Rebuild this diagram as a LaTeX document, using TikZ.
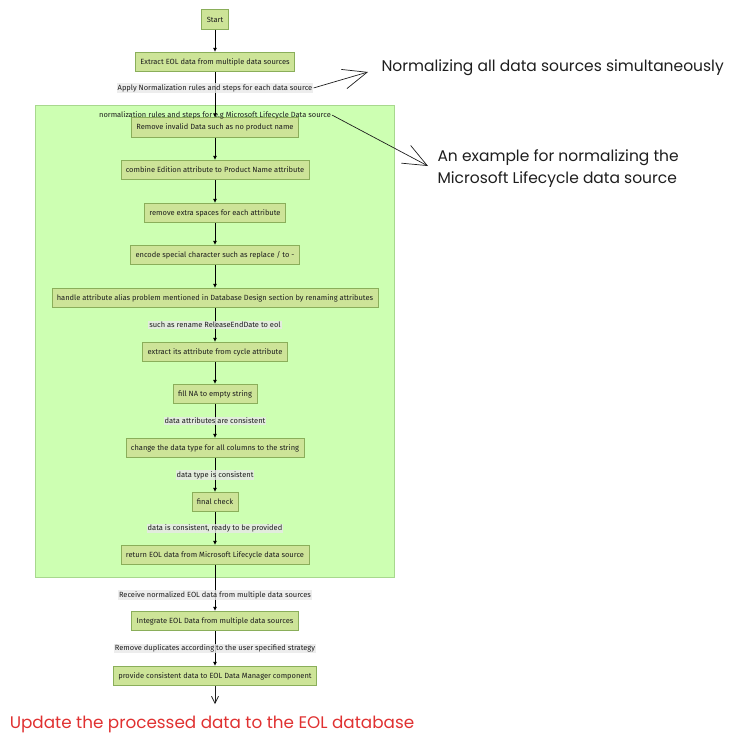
\documentclass[tikz,border=0pt]{standalone}
\usepackage{fontspec}
\setmainfont{Fira Sans}
\newfontfamily\handfont{Poppins}
\usepackage{tikz}
\usetikzlibrary{arrows.meta,backgrounds,fit,positioning}
\definecolor{flowFill}{HTML}{CDE498}
\definecolor{flowBorder}{HTML}{8AAE5A}
\definecolor{flowCluster}{HTML}{CDFFB2}
\definecolor{flowClusterBorder}{HTML}{A8D88E}
\definecolor{flowLabel}{HTML}{E8E8E8}
\definecolor{flowInk}{HTML}{1E1E1E}
\definecolor{flowRed}{HTML}{E03131}

\begin{document}
\begin{tikzpicture}[
  x=1pt, y=-1pt,
  font=\fontsize{7.5}{8.5}\selectfont,
  stepbox/.style={draw=flowBorder, fill=flowFill, line width=.6pt, minimum height=19.5pt, inner xsep=5pt, text=flowInk},
  cluster/.style={draw=flowClusterBorder, fill=flowCluster, line width=.6pt, inner xsep=16pt, inner ysep=12pt},
  arrow/.style={-{Latex[length=4pt,width=4pt]}, line width=.8pt, draw=black},
  edgelabel/.style={fill=flowLabel, fill opacity=.8, text opacity=1, inner sep=1pt, text=flowInk},
  note/.style={font=\handfont\fontsize{15.5}{22}\selectfont, align=left, anchor=west, text=flowInk},
  notearrow/.style={-{Straight Barb[length=24pt,width=20pt]}, line width=.7pt, draw=flowInk}
]
  \useasboundingbox (0,0) rectangle (743,745);

  \node[stepbox] (start) at (215,19.5) {Start};
  \node[stepbox] (extract) at (215,62) {Extract EOL data from multiple data sources};
  \node[stepbox] (invalid) at (215,127.5) {Remove invalid Data such as no product name};
  \node[stepbox] (combine) at (215,170) {combine Edition attribute to Product Name attribute};
  \node[stepbox] (spaces) at (215,213) {remove extra spaces for each attribute};
  \node[stepbox] (encode) at (215,255) {encode special character such as replace / to -};
  \node[stepbox] (alias) at (215,298) {handle attribute alias problem mentioned in Database Design section by renaming attributes};
  \node[stepbox] (cycle) at (215,352) {extract its attribute from cycle attribute};
  \node[stepbox] (fillna) at (215,394) {fill NA to empty string};
  \node[stepbox] (dtype) at (215,448) {change the data type for all columns to the string};
  \node[stepbox] (check) at (215,502) {final check};
  \node[stepbox] (return) at (215,555) {return EOL data from Microsoft Lifecycle data source};
  \node[stepbox] (integrate) at (215,621) {Integrate EOL Data from multiple data sources};
  \node[stepbox] (provide) at (215,676) {provide consistent data to EOL Data Manager component};

  \begin{scope}[on background layer]
    \node[cluster, fit=(alias.west) (alias.east) (invalid.north) (return.south)] (msls) {};
  \end{scope}
  \node[below=5pt of msls.north, inner sep=1pt, text=flowInk] (msltitle) {normalization rules and steps for e.g Microsoft Lifecycle Data source};

  \draw[arrow] (start) -- (extract);
  \draw[arrow] (extract) -- node[edgelabel, pos=.35] (apply) {Apply Normalization rules and steps for each data source} (invalid);
  \draw[arrow] (invalid) -- (combine);
  \draw[arrow] (combine) -- (spaces);
  \draw[arrow] (spaces) -- (encode);
  \draw[arrow] (encode) -- (alias);
  \draw[arrow] (alias) -- node[edgelabel] {such as rename ReleaseEndDate to eol} (cycle);
  \draw[arrow] (cycle) -- (fillna);
  \draw[arrow] (fillna) -- node[edgelabel] {data attributes are consistent} (dtype);
  \draw[arrow] (dtype) -- node[edgelabel] {data type is consistent} (check);
  \draw[arrow] (check) -- node[edgelabel] {data is consistent, ready to be provided} (return);
  \draw[arrow] (return) -- node[edgelabel, pos=.65] {Receive normalized EOL data from multiple data sources} (integrate);
  \draw[arrow] (integrate) -- node[edgelabel] {Remove duplicates according to the user specified strategy} (provide);

  % hand-drawn notes
  \coordinate (tipall) at (368,72);
  \coordinate (tipms) at (428,166);
  \coordinate (tipdb) at (215,704);
  \node[note] (noteall) at (378,68) {Normalizing all data sources simultaneously};
  \node[note] (notems) at (434,169) {An example for normalizing the\\Microsoft Lifecycle data source};
  \node[note, anchor=center, text=flowRed, font=\handfont\fontsize{16.8}{20}\selectfont] (notedb) at (212,724) {Update the processed data to the EOL database};
  \draw[notearrow] (apply.east) -- (tipall);
  \draw[notearrow] (msltitle.east) -- (tipms);
  \draw[notearrow, -{Straight Barb[length=7pt,width=7pt]}] (provide) -- (tipdb);
\end{tikzpicture}
\end{document}
